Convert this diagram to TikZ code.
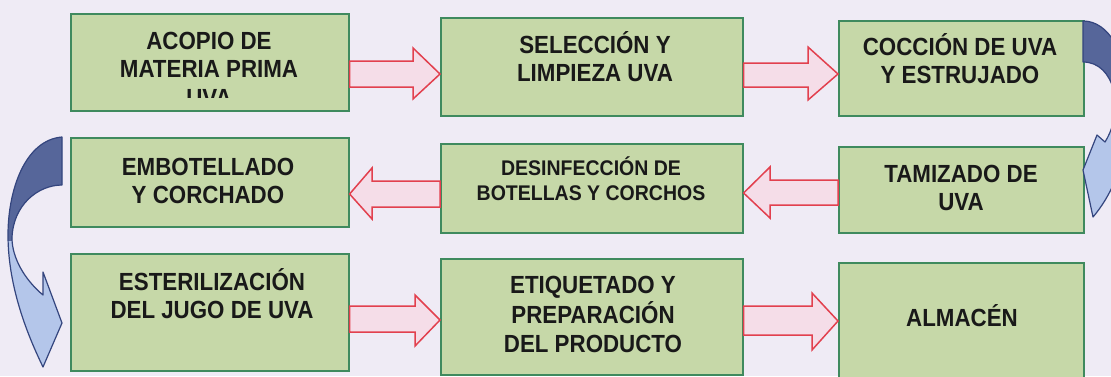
\documentclass[tikz,border=0pt]{standalone}
\usepackage{fontspec}
\setmainfont{Liberation Sans}
\newfontfamily\boxfont{Liberation Sans}[FakeStretch=0.9]
\newfontfamily\boxfontE{Liberation Sans}[FakeStretch=0.92]
\usetikzlibrary{calc}
\definecolor{bg}{HTML}{EFEBF5}
\definecolor{boxfill}{HTML}{C6D8A8}
\definecolor{boxline}{HTML}{3F8A5E}
\definecolor{redline}{HTML}{E2404E}
\definecolor{redfill}{HTML}{F5DDE8}
\definecolor{bluedark}{HTML}{56669A}
\definecolor{bluelight}{HTML}{B4C6EA}
\definecolor{blueline}{HTML}{34457E}
\newcommand\mylines[1]{\begin{tabular}[t]{@{}c@{}}#1\end{tabular}}
\begin{document}
\begin{tikzpicture}[x=1pt,y=-1pt,
  box/.style={draw=boxline, fill=boxfill, line width=1.6pt, inner sep=0pt, anchor=north west},
  txt/.style={anchor=base, inner sep=0pt, text=black!90, font=\boxfont\fontsize{24.8}{28.5}\selectfont\bfseries},
  smalltxt/.style={txt, font=\boxfontE\fontsize{21.2}{25}\selectfont\bfseries},
  blockarrow/.style={draw=redline, fill=redfill, line width=1.5pt, line join=miter},
  curvearrow/.style={draw=blueline, line width=1.2pt, line join=round}]
\clip (0,0) rectangle (1111,376);
\fill[bg] (0,0) rectangle (1111,376);

% boxes
\node[box, minimum width=278pt, minimum height=97pt]  (A) at (70,13) {};
\node[box, minimum width=302pt, minimum height=98pt]  (B) at (440,17) {};
\node[box, minimum width=245pt, minimum height=95pt]  (C) at (838,20) {};
\node[box, minimum width=278pt, minimum height=89pt]  (D) at (70,137) {};
\node[box, minimum width=302pt, minimum height=89pt]  (E) at (440,143) {};
\node[box, minimum width=245pt, minimum height=86pt]  (F) at (838,146) {};
\node[box, minimum width=278pt, minimum height=117pt] (G) at (70,253) {};
\node[box, minimum width=302pt, minimum height=116pt] (H) at (440,258) {};
\node[box, minimum width=245pt, minimum height=124pt] (I) at (838,262) {};

% texts
\begin{scope}
\clip (70,13) rectangle (348,97);
\node[txt] (tA) at (209,49) {\mylines{ACOPIO DE\\MATERIA PRIMA\\UVA}};
\end{scope}
\node[txt] (tB) at (595,53) {\mylines{SELECCIÓN Y\\LIMPIEZA UVA}};
\node[txt] (tC) at (960,55) {\mylines{COCCIÓN DE UVA\\Y ESTRUJADO}};
\node[txt] (tD) at (208,175) {\mylines{EMBOTELLADO\\Y CORCHADO}};
\node[smalltxt] (tE) at (591,175) {\mylines{DESINFECCIÓN DE\\BOTELLAS Y CORCHOS}};
\node[txt] (tF) at (961,182) {\mylines{TAMIZADO DE\\UVA}};
\node[txt] (tG) at (212,290) {\mylines{ESTERILIZACIÓN\\DEL JUGO DE UVA}};
\node[txt] (tH) at (593,293) {\mylines{ETIQUETADO Y\\PREPARACIÓN\\DEL PRODUCTO}};
\node[txt] (tI) at (962,326) {ALMACÉN};

% red block arrows
\draw[blockarrow] (A.east |- 0,61) -- (413,61) -- (413,48) -- (B.west |- 0,74) -- (413,99) -- (413,87) -- (A.east |- 0,87) -- cycle;
\draw[blockarrow] (B.east |- 0,63) -- (808,63) -- (808,47) -- (C.west |- 0,74) -- (808,100) -- (808,87) -- (B.east |- 0,87) -- cycle;
\draw[blockarrow] (E.west |- 0,181) -- (372,181) -- (372,168) -- (D.east |- 0,194) -- (372,219) -- (372,207) -- (E.west |- 0,207) -- cycle;
\draw[blockarrow] (F.west |- 0,180) -- (770,180) -- (770,167) -- (E.east |- 0,193) -- (770,218) -- (770,205) -- (F.west |- 0,205) -- cycle;
\draw[blockarrow] (G.east |- 0,306) -- (415,306) -- (415,295) -- (H.west |- 0,320) -- (415,346) -- (415,332) -- (G.east |- 0,332) -- cycle;
\draw[blockarrow] (H.east |- 0,306) -- (812,306) -- (812,293) -- (I.west |- 0,321) -- (812,350) -- (812,335) -- (H.east |- 0,335) -- cycle;

% blue curved arrows
\def\rightcurve{(1083,21) .. controls (1135,21) and (1150,150) .. (1093,217) -- (1083,170) -- (1097,135) -- (1105,142) .. controls (1125,110) and (1115,62) .. (1083,62) -- cycle}
\def\leftcurve{(62,137) .. controls (25,140) and (8,190) .. (8,235) .. controls (8,290) and (30,340) .. (43,367) -- (62,323) -- (43,272) -- (43,295) .. controls (25,280) and (12,258) .. (12,238) .. controls (13,205) and (38,185) .. (62,185) -- cycle}
\fill[bluelight] \rightcurve;
\begin{scope}
\clip (1070,0) rectangle (1120,115);
\fill[bluedark] \rightcurve;
\end{scope}
\draw[curvearrow] \rightcurve;
\fill[bluelight] \leftcurve;
\begin{scope}
\clip (0,100) rectangle (70,240);
\fill[bluedark] \leftcurve;
\end{scope}
\draw[curvearrow] \leftcurve;
\end{tikzpicture}
\end{document}
